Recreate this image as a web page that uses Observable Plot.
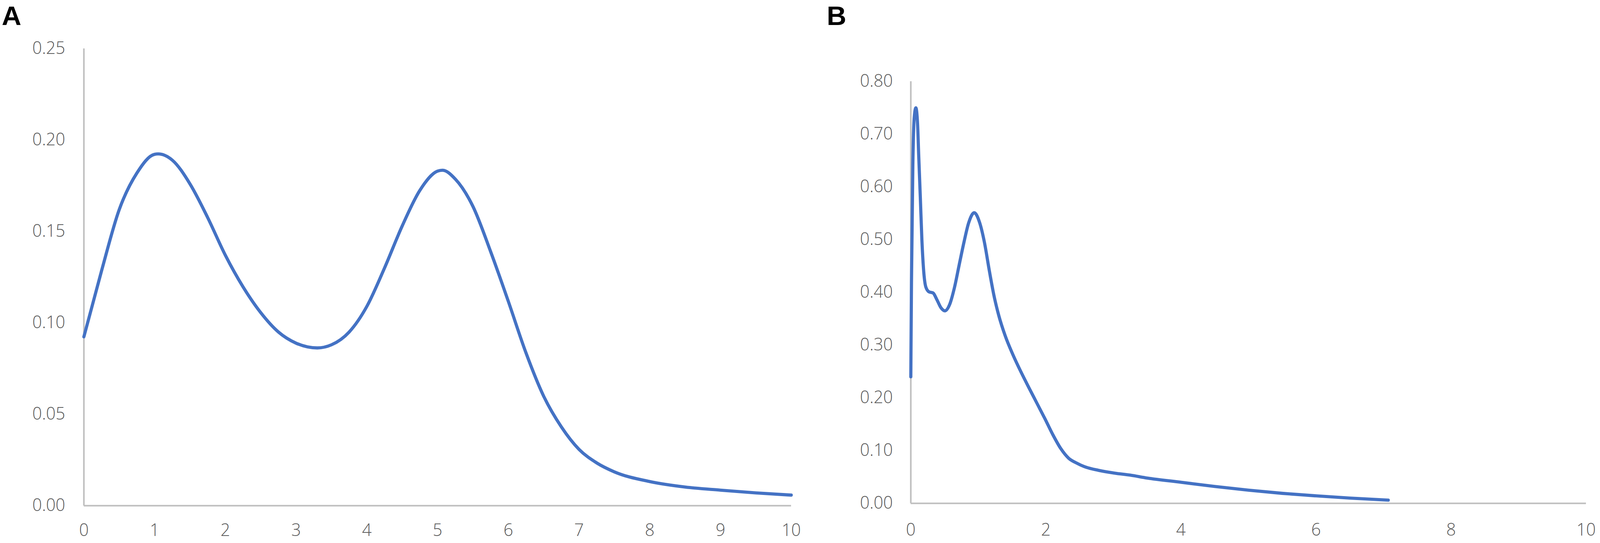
<!DOCTYPE html>
<html>
<head>
<meta charset="utf-8">
<script src="https://cdn.jsdelivr.net/npm/d3@7"></script>
<script src="https://cdn.jsdelivr.net/npm/@observablehq/plot@0.6"></script>
<style>
  html, body { margin: 0; padding: 0; background: #fff; overflow: hidden; }
  #wrap { position: relative; overflow: hidden; background: #fff; }
  .panel { position: absolute; top: 0; }
  .tag { position: absolute; top: 0; font-family: "Liberation Sans", Arial, sans-serif; font-weight: bold; line-height: normal; color: #000; }
</style>
</head>
<body>
<div id="wrap">
  <div id="panelA" class="panel"></div>
  <div id="panelB" class="panel"></div>
  <div id="tagA" class="tag">A</div>
  <div id="tagB" class="tag">B</div>
</div>
<script>
// ---- Panel A data ----
const xA = [0, 0.25, 0.5, 0.75, 1.0, 1.05, 1.25, 1.5, 1.75, 2.0, 2.25, 2.5, 2.75, 3.0, 3.3, 3.5, 3.75, 4.0, 4.25, 4.5, 4.75, 5.0, 5.07, 5.25, 5.5, 5.75, 6.0, 6.25, 6.5, 6.75, 7.0, 7.25, 7.5, 8.0, 8.5, 9.0, 9.5, 10];
const yA = [0.0924, 0.1285, 0.162, 0.182, 0.1922, 0.1924, 0.189, 0.176, 0.1576, 0.137, 0.1197, 0.1056, 0.095, 0.0889, 0.0863, 0.088, 0.095, 0.109, 0.130, 0.153, 0.1725, 0.1830, 0.1835, 0.1787, 0.1637, 0.139, 0.1118, 0.0836, 0.0599, 0.0431, 0.0308, 0.0234, 0.0185, 0.0132, 0.0102, 0.0085, 0.0070, 0.0058];
const xTicksA = [0, 1, 2, 3, 4, 5, 6, 7, 8, 9, 10];
const yTicksA = [0, 0.05, 0.10, 0.15, 0.20, 0.25];

// ---- Panel B data ----
const xB = [0, 0.01, 0.03, 0.05, 0.075, 0.1, 0.117, 0.141, 0.164, 0.188, 0.223, 0.27, 0.329, 0.387, 0.446, 0.505, 0.575, 0.646, 0.716, 0.787, 0.857, 0.939, 1.02, 1.09, 1.163, 1.233, 1.303, 1.397, 1.515, 1.632, 1.75, 1.867, 1.984, 2.10, 2.22, 2.337, 2.454, 2.57, 2.78, 3.02, 3.25, 3.5, 4.0, 4.5, 5.0, 5.5, 6.0, 6.5, 7.07];
const yB = [0.24, 0.42, 0.64, 0.73, 0.75, 0.72, 0.66, 0.58, 0.50, 0.445, 0.41, 0.401, 0.399, 0.386, 0.371, 0.365, 0.377, 0.409, 0.452, 0.495, 0.532, 0.551, 0.532, 0.495, 0.441, 0.393, 0.356, 0.318, 0.281, 0.249, 0.219, 0.190, 0.161, 0.131, 0.104, 0.0856, 0.0765, 0.0696, 0.0626, 0.0573, 0.0535, 0.048, 0.040, 0.032, 0.025, 0.019, 0.0142, 0.010, 0.0061];
const xTicksB = [0, 2, 4, 6, 8, 10];
const yTicksB = [0, 0.1, 0.2, 0.3, 0.4, 0.5, 0.6, 0.7, 0.8];

const lineColor = "#4472C4";
const axisColor = "#BFBFBF";
const textColor = "#595959";

const dataA = xA.map((x, i) => ({x, y: yA[i]}));
const dataB = xB.map((x, i) => ({x, y: yB[i]}));

// fit the 4550x1390 design to the real viewport
const W = document.documentElement.clientWidth || window.innerWidth || 4550;
const H = window.innerHeight || document.documentElement.clientHeight || 1390;
const sx = W / 4550, sy = H / 1390, s = Math.min(sx, sy);

const wrap = document.getElementById("wrap");
wrap.style.width = W + "px";
wrap.style.height = H + "px";

function panel({data, xDomain, yDomain, xTicks, yTicks, width, margins, xPad, yPad}) {
  return Plot.plot({
    width: Math.round(width * sx), height: H,
    marginLeft: margins.left * sx, marginRight: margins.right * sx,
    marginTop: margins.top * sy, marginBottom: margins.bottom * sy,
    style: {fontFamily: "'Open Sans', sans-serif", fontSize: (48 * s) + "px", fontWeight: 300, color: textColor, background: "#fff", overflow: "visible"},
    x: {domain: xDomain, ticks: xTicks, tickSize: 0, tickPadding: xPad * sy, tickFormat: d => String(d), label: null},
    y: {domain: yDomain, ticks: yTicks, tickSize: 0, tickPadding: yPad * sx, tickFormat: d3.format(".2f"), label: null},
    marks: [
      Plot.ruleX([0], {stroke: axisColor, strokeWidth: 4.5 * s}),
      Plot.ruleY([0], {stroke: axisColor, strokeWidth: 4.5 * s}),
      Plot.line(data, {x: "x", y: "y", stroke: lineColor, strokeWidth: 9 * s, curve: "monotone-x"})
    ]
  });
}

const pA = document.getElementById("panelA");
pA.style.left = "0px";
pA.append(panel({
  data: dataA, xDomain: [0, 10], yDomain: [0, 0.25], xTicks: xTicksA, yTicks: yTicksA,
  width: 2300, margins: {left: 238, right: 51, top: 124, bottom: 96}, xPad: 47, yPad: 53
}));

const pB = document.getElementById("panelB");
pB.style.left = Math.round(2300 * sx) + "px";
pB.append(panel({
  data: dataB, xDomain: [0, 10], yDomain: [0, 0.8], xTicks: xTicksB, yTicks: yTicksB,
  width: 2250, margins: {left: 289, right: 40, top: 208, bottom: 102}, xPad: 52, yPad: 51
}));

const tA = document.getElementById("tagA"), tB = document.getElementById("tagB");
[tA, tB].forEach(t => { t.style.fontSize = (77 * s) + "px"; });
tA.style.left = (5 * sx) + "px";
tB.style.left = (2351 * sx) + "px";
</script>
</body>
</html>
